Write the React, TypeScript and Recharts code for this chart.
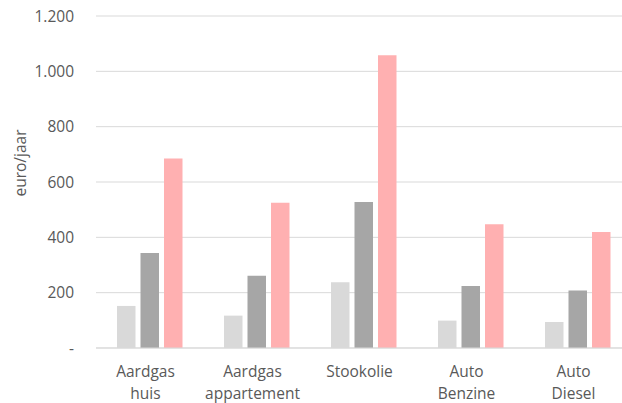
import React from 'react';
import { BarChart, Bar, XAxis, YAxis, CartesianGrid } from 'recharts';

// categories (two-line labels split on \n)
const categories = ['Aardgas\nhuis', 'Aardgas\nappartement', 'Stookolie', 'Auto\nBenzine', 'Auto\nDiesel'];
const serieA = [152, 117, 238, 99, 94];
const serieB = [343, 261, 528, 224, 208];
const serieC = [685, 525, 1058, 447, 419];
const yTicks = [0, 200, 400, 600, 800, 1000, 1200];

const data = categories.map((name, i) => ({ name, a: serieA[i], b: serieB[i], c: serieC[i] }));

const textColor = '#595959';
const fontFamily = '"Open Sans", sans-serif';
const fontSize = 15.5;

const formatTick = (v: number) => {
  if (v === 0) return '-';
  return String(v).replace(/\B(?=(\d{3})+(?!\d))/g, '.');
};

const CategoryTick = ({ x, y, payload }: any) => {
  const lines = String(payload.value).split('\n');
  return (
    <text x={x} y={y} textAnchor="middle" fill={textColor} fontSize={fontSize} fontFamily={fontFamily}>
      {lines.map((l, i) => (
        <tspan key={i} x={x - 4} dy={i === 0 ? 21 : 21.5}>{l}</tspan>
      ))}
    </text>
  );
};

const YLabel = ({ viewBox }: any) => {
  const cx = viewBox.x + 20;
  const cy = viewBox.y + viewBox.height / 2 - 19;
  return (
    <text x={cx} y={cy} transform={`rotate(-90 ${cx} ${cy})`} textAnchor="middle" dominantBaseline="central" fill={textColor} fontSize={fontSize} fontFamily={fontFamily}>
      euro/jaar
    </text>
  );
};

export default function App() {
  return (
    <div style={{ position: 'absolute', left: 0, top: 0, width: 622, height: 403, overflow: 'hidden', background: '#fff' }}>
      <BarChart width={631} height={403} data={data} margin={{ top: 16, right: 0, bottom: 0, left: 0 }} barSize={18.5} barGap={5}>
        <CartesianGrid vertical={false} stroke="#d9d9d9" />
        <XAxis
          dataKey="name"
          height={55}
          tickLine={false}
          axisLine={{ stroke: '#d9d9d9' }}
          interval={0}
          tick={<CategoryTick />}
        />
        <YAxis
          width={96}
          domain={[0, 1200]}
          ticks={yTicks}
          tickFormatter={formatTick}
          axisLine={false}
          tickLine={false}
          tickSize={0}
          tickMargin={22}
          tick={{ fill: textColor, fontSize, fontFamily }}
          label={<YLabel />}
        />
        <Bar dataKey="a" fill="#d9d9d9" isAnimationActive={false} />
        <Bar dataKey="b" fill="#a6a6a6" isAnimationActive={false} />
        <Bar dataKey="c" fill="#ffb0b1" isAnimationActive={false} />
      </BarChart>
    </div>
  );
}
